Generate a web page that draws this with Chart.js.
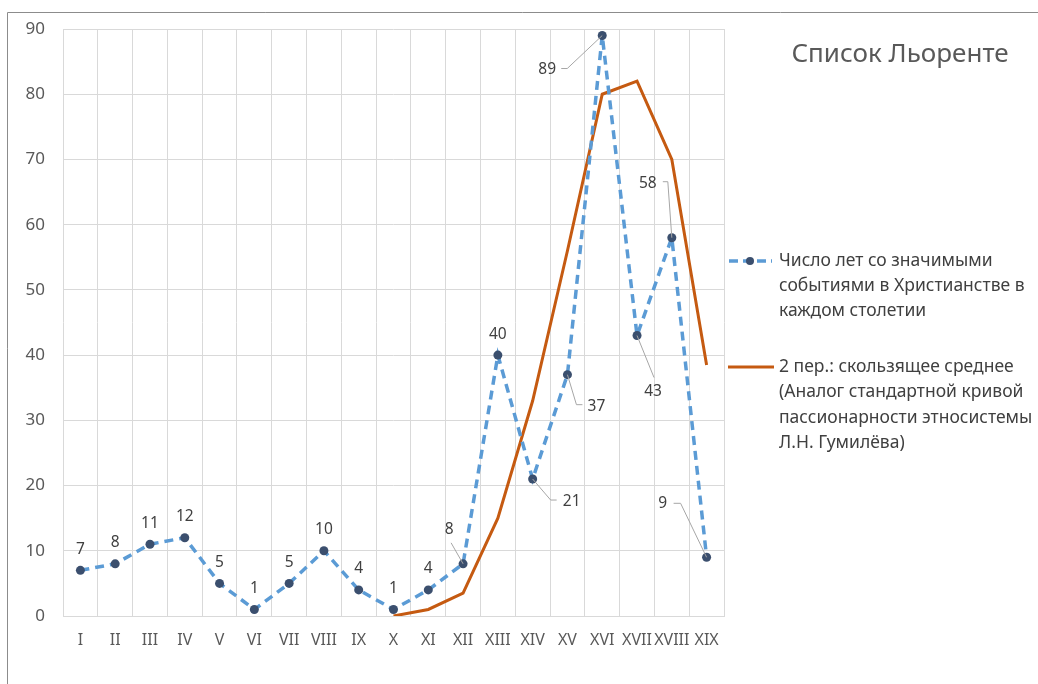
<!DOCTYPE html>
<html lang="ru">
<head>
<meta charset="utf-8">
<title>Список Льоренте</title>
<script src="https://cdn.jsdelivr.net/npm/chart.js@4.4.1/dist/chart.umd.min.js"></script>
<style>
  html, body { margin: 0; padding: 0; background: #fff; }
  #wrap { position: relative; width: 1038px; height: 684px; }
</style>
</head>
<body>
<div id="wrap"><canvas id="chart"></canvas></div>
<script>
// Data
const centuries = ['I', 'II', 'III', 'IV', 'V', 'VI', 'VII', 'VIII', 'IX', 'X',
  'XI', 'XII', 'XIII', 'XIV', 'XV', 'XVI', 'XVII', 'XVIII', 'XIX'];
const eventYears = [7, 8, 11, 12, 5, 1, 5, 10, 4, 1, 4, 8, 40, 21, 37, 89, 43, 58, 9];
const movingAvg = [null, null, null, null, null, null, null, null, null,
  0, 1, 3.5, 15, 33, 56, 80, 82, 70, 38.5];
const yTickValues = [0, 10, 20, 30, 40, 50, 60, 70, 80, 90];

const titleText = 'Список Льоренте';
const legendEvents = ['Число лет со значимыми', 'событиями в Христианстве в', 'каждом столетии'];
const legendAvg = ['2 пер.: скользящее среднее', '(Аналог стандартной кривой',
  'пассионарности этносистемы', 'Л.Н. Гумилёва)'];

const FONT = 'Noto Sans';
const BLUE = '#5b9bd5';
const ORANGE = '#c55a11';
const MARKER = '#3b4f6e';
const TEXT = '#404040';

// Where the data labels sit relative to their point (label centre + leader path)
const labelPlacement = {
  11: { dx: -14, dy: -34, path: [[0, 0], [-12, -21]] },
  13: { dx: 39, dy: 23, path: [[0, 0], [18, 21], [24, 21]] },
  14: { dx: 29, dy: 32, path: [[0, 0], [9, 30], [15, 30]] },
  15: { dx: -55, dy: 34, path: [[0, 0], [-35, 33], [-41, 33]] },
  16: { dx: 16, dy: 56, path: [[0, 0], [17, 42]] },
  17: { dx: -24, dy: -54, path: [[0, 0], [-4, -56], [-9, -56]] },
  18: { dx: -44, dy: -54, path: [[0, 0], [-26, -54], [-33, -54]] }
};

// Frame around the chart
const framePlugin = {
  id: 'frame',
  beforeDraw(chart) {
    const ctx = chart.ctx;
    ctx.save();
    ctx.strokeStyle = '#8c8c8c';
    ctx.lineWidth = 1;
    ctx.beginPath();
    ctx.moveTo(7.5, 684);
    ctx.lineTo(7.5, 12.5);
    ctx.lineTo(1038, 12.5);
    ctx.stroke();
    ctx.restore();
  }
};

// Value labels on the blue series
const labelsPlugin = {
  id: 'valueLabels',
  afterDatasetsDraw(chart) {
    const ctx = chart.ctx;
    const meta = chart.getDatasetMeta(0);
    ctx.save();
    ctx.font = '15.5px ' + FONT;
    ctx.fillStyle = TEXT;
    ctx.textAlign = 'center';
    ctx.textBaseline = 'middle';
    meta.data.forEach((pt, i) => {
      const place = labelPlacement[i];
      if (place) {
        ctx.strokeStyle = '#a6a6a6';
        ctx.lineWidth = 1;
        ctx.beginPath();
        place.path.forEach(([x, y], k) => {
          if (k === 0) ctx.moveTo(pt.x + x, pt.y + y);
          else ctx.lineTo(pt.x + x, pt.y + y);
        });
        ctx.stroke();
        ctx.fillText(String(eventYears[i]), pt.x + place.dx, pt.y + place.dy);
      } else {
        ctx.fillText(String(eventYears[i]), pt.x, pt.y - 21);
      }
    });
    ctx.restore();
  }
};

// Title and legend on the right
const sidePlugin = {
  id: 'side',
  afterDraw(chart) {
    const ctx = chart.ctx;
    ctx.save();
    ctx.fillStyle = '#595959';
    ctx.font = '26px ' + FONT;
    ctx.textAlign = 'center';
    ctx.textBaseline = 'middle';
    ctx.fillText(titleText, 900, 55);

    // blue entry
    ctx.strokeStyle = BLUE;
    ctx.lineWidth = 3.5;
    ctx.setLineDash([9, 5]);
    ctx.beginPath();
    ctx.moveTo(729, 261);
    ctx.lineTo(772, 261);
    ctx.stroke();
    ctx.setLineDash([]);
    ctx.fillStyle = MARKER;
    ctx.beginPath();
    ctx.arc(750, 261, 4, 0, Math.PI * 2);
    ctx.fill();

    // orange entry
    ctx.strokeStyle = ORANGE;
    ctx.lineWidth = 3;
    ctx.beginPath();
    ctx.moveTo(728, 367);
    ctx.lineTo(774, 367);
    ctx.stroke();

    ctx.fillStyle = TEXT;
    ctx.font = '17.5px ' + FONT;
    ctx.textAlign = 'left';
    legendEvents.forEach((t, i) => ctx.fillText(t, 779, 261 + i * 25));
    legendAvg.forEach((t, i) => ctx.fillText(t, 779, 367 + i * 25.3));
    ctx.restore();
  }
};

new Chart(document.getElementById('chart'), {
  type: 'line',
  data: {
    labels: centuries,
    datasets: [
      {
        label: legendEvents.join(' '),
        data: eventYears,
        borderColor: BLUE,
        borderWidth: 3.5,
        borderDash: [9, 6],
        pointRadius: 4.5,
        pointBackgroundColor: MARKER,
        pointBorderColor: MARKER,
        pointBorderWidth: 0,
        tension: 0,
        order: 0
      },
      {
        label: legendAvg.join(' '),
        data: movingAvg,
        borderColor: ORANGE,
        borderWidth: 3,
        pointRadius: 0,
        tension: 0,
        spanGaps: false,
        order: 1
      }
    ]
  },
  options: {
    responsive: true,
    maintainAspectRatio: false,
    animation: false,
    events: [],
    layout: { padding: { left: 8, right: 314, top: 29, bottom: 8 } },
    plugins: {
      legend: { display: false },
      title: { display: false },
      tooltip: { enabled: false }
    },
    scales: {
      x: {
        offset: true,
        grid: { offset: true, color: '#d9d9d9', drawTicks: false },
        border: { color: '#d9d9d9' },
        ticks: { color: '#595959', font: { family: FONT, size: 16 }, padding: 15, autoSkip: false, maxRotation: 0 },
        afterFit(scale) { scale.height = 60; }
      },
      y: {
        min: 0,
        max: 90,
        grid: { color: '#d9d9d9', drawTicks: false },
        border: { display: false },
        ticks: { color: '#595959', font: { family: FONT, size: 17 }, padding: 18 },
        afterBuildTicks(scale) { scale.ticks = yTickValues.map(v => ({ value: v })); },
        afterFit(scale) { scale.width = 55; }
      }
    }
  },
  plugins: [framePlugin, labelsPlugin, sidePlugin]
});
</script>
</body>
</html>
